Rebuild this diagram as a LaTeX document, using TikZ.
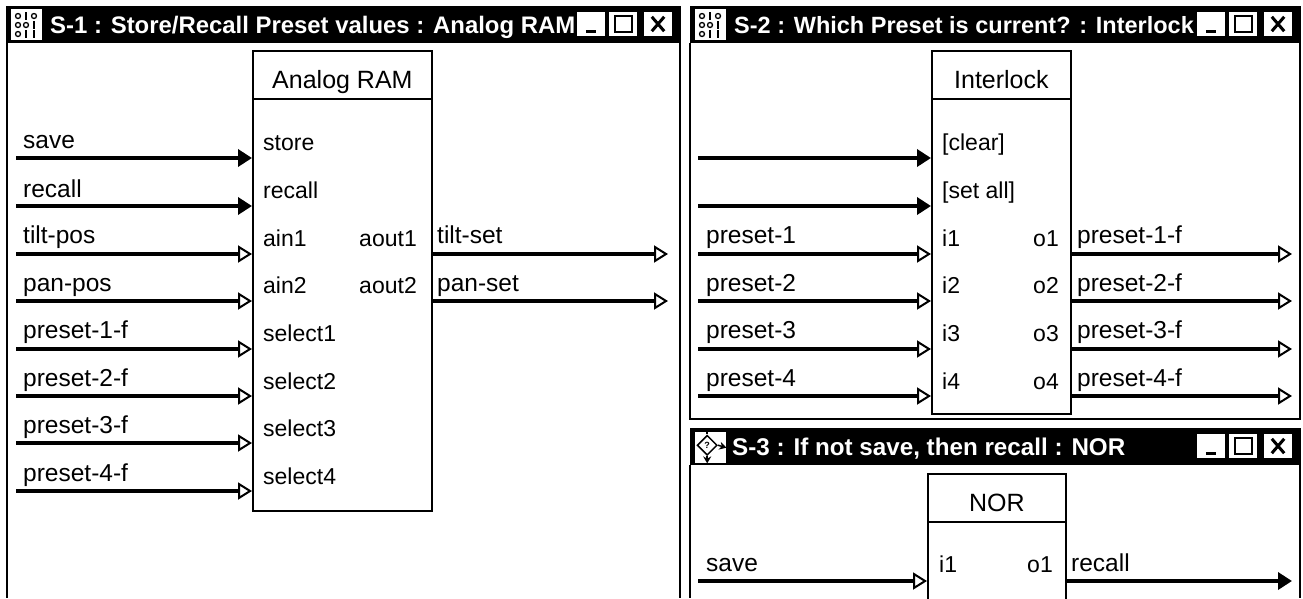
\documentclass[tikz,border=0pt]{standalone}
\usepackage{fontspec}
\setmainfont{Liberation Sans}
\usetikzlibrary{shapes.geometric, arrows.meta, positioning, calc}
\tikzset{
    titlebar/.style={rectangle, fill=black, inner sep=0pt, anchor=north west, minimum height=37pt},
    titletext/.style={text=white, font=\fontsize{#1}{28}\selectfont\bfseries, anchor=base west, inner sep=0pt},
    header/.style={rectangle, draw=black, line width=1.8pt, fill=white, inner sep=0pt, anchor=north west,
                   text height=38pt, text depth=10pt, font=\fontsize{25}{28}\selectfont},
    body/.style={rectangle, draw=black, line width=1.8pt, fill=white, inner sep=0pt, anchor=north west},
    signal/.style={font=\fontsize{24.5}{28}\selectfont, anchor=base west, inner sep=0pt},
    port/.style={font=\fontsize{23}{28}\selectfont, anchor=base west, inner sep=0pt},
    portright/.style={port, anchor=base east},
    frame/.style={draw=black, line width=2pt},
    winbtn/.style={rectangle, fill=white, inner sep=0pt, minimum width=28pt, minimum height=24pt},
    wirein/.style={-{Triangle[fill=white, length=14pt, width=17pt, line width=2pt]}, line width=3.8pt},
    wirefull/.style={-{Triangle[length=14pt, width=17pt]}, line width=3.8pt}
}
\newcommand{\winbuttons}[3]{% prefix, x of the first button, y of the centre
    \node[winbtn] (#1min) at (#2,#3) {};
    \node[winbtn] (#1max) at (#2+32,#3) {};
    \node[winbtn] (#1cls) at (#2+67,#3) {};
    \draw[line width=3pt] ($(#1min.south west)+(9,5)$) -- ($(#1min.south east)+(-9,5)$);
    \draw[line width=2.5pt] ($(#1max.south west)+(6,4)$) rectangle ($(#1max.north east)+(-5,-4)$);
    \draw[line width=3pt] ($(#1cls.south west)+(8,5)$) -- ($(#1cls.north east)+(-8,-5)$);
    \draw[line width=3pt] ($(#1cls.north west)+(8,-5)$) -- ($(#1cls.south east)+(-8,5)$);
}
\newcommand{\chipicon}[3]{% name, left x, top y
    \node[rectangle, fill=white, inner sep=0pt, minimum size=31pt, anchor=north west] (#1) at (#2,#3) {};
    \draw[line width=1.3pt] ($(#1.north west)+(7,-7)$) circle (2.5pt) ($(#1.north west)+(23,-7)$) circle (2.5pt)
        ($(#1.north west)+(7,-16)$) circle (2.5pt) ($(#1.north west)+(15,-16)$) circle (2.5pt)
        ($(#1.north west)+(7,-25)$) circle (2.5pt);
    \draw[line width=1.5pt] ($(#1.north west)+(15,-3)$) -- ++(0,-8) ($(#1.north west)+(23,-12)$) -- ++(0,-8)
        ($(#1.north west)+(15,-21)$) -- ++(0,-8) ($(#1.north west)+(23,-21)$) -- ++(0,-8);
}
\begin{document}
\begin{tikzpicture}[x=1pt, y=1pt]
    \useasboundingbox[fill=white] (0,0) rectangle (1303,-598);

    % Window frames
    \draw[frame] (7,-43) -- (7,-598);
    \draw[frame] (680,-43) -- (680,-598);
    \draw[frame] (690,-43) -- (690,-419) -- (1300,-419) -- (1300,-43);
    \draw[frame] (690,-465) -- (690,-598);
    \draw[frame] (1300,-465) -- (1300,-598);

    % Title bars
    \node[titlebar, minimum width=675pt] (bar1) at (6,-6) {};
    \node[titlebar, minimum width=611pt] (bar2) at (690,-6) {};
    \node[titlebar, minimum width=611pt] (bar3) at (690,-428) {};
    \node[titletext=23.9] (title1) at (50,-33) {S-1 : Store/Recall Preset values : Analog RAM};
    \node[titletext=23.5] (title2) at (734,-33) {S-2 : Which Preset is current? : Interlock};
    \node[titletext=24.2] (title3) at (732,-455) {S-3 : If not save, then recall : NOR};
    \winbuttons{a}{591}{-24}
    \winbuttons{b}{1211}{-24}
    \winbuttons{c}{1211}{-446}
    \chipicon{chipa}{11}{-9}
    \chipicon{chipb}{695}{-9}

    % Icon of the third window
    \node[rectangle, fill=white, inner sep=0pt, minimum size=31pt, anchor=north west] (gate) at (695,-432) {};
    \node[diamond, draw=black, line width=1.5pt, inner sep=0pt, minimum size=20pt, font=\fontsize{9}{9}\selectfont\bfseries]
        (gatemark) at ($(gate.center)+(-3.5,2.5)$) {?};
    \draw[-{Stealth[length=7pt, width=8pt]}, line width=1.5pt] (gatemark.east) -- (gate.east);
    \draw[-{Stealth[length=7pt, width=8pt]}, line width=1.5pt] (gatemark.south) -- (gatemark.south |- gate.south);
    \draw[line width=1.5pt] (gatemark.north) -- (gatemark.north |- gate.north);

    % Analog RAM
    \node[header, minimum width=179pt] (ramhead) at (252,-50) {Analog RAM};
    \node[body, minimum width=179pt, minimum height=412pt] (ram) at (252,-98) {};
    \node[port] (store) at (263,-150) {store};
    \node[port] (recallin) at (263,-198) {recall};
    \node[port] (ain1) at (263,-246) {ain1};
    \node[port] (ain2) at (263,-293) {ain2};
    \node[port] (select1) at (263,-341) {select1};
    \node[port] (select2) at (263,-389) {select2};
    \node[port] (select3) at (263,-436) {select3};
    \node[port] (select4) at (263,-484) {select4};
    \node[portright] (aout1) at (417,-246) {aout1};
    \node[portright] (aout2) at (417,-293) {aout2};

    \coordinate (a1) at (16,-158);
    \coordinate (a2) at (16,-206);
    \coordinate (a3) at (16,-254);
    \coordinate (a4) at (16,-301);
    \coordinate (a5) at (16,-349);
    \coordinate (a6) at (16,-396);
    \coordinate (a7) at (16,-443);
    \coordinate (a8) at (16,-491);
    \coordinate (aoutend1) at (668,-254);
    \coordinate (aoutend2) at (668,-301);
    \draw[wirefull] (a1) -- (a1 -| ram.west);
    \draw[wirefull] (a2) -- (a2 -| ram.west);
    \draw[wirein] (a3) -- (a3 -| ram.west);
    \draw[wirein] (a4) -- (a4 -| ram.west);
    \draw[wirein] (a5) -- (a5 -| ram.west);
    \draw[wirein] (a6) -- (a6 -| ram.west);
    \draw[wirein] (a7) -- (a7 -| ram.west);
    \draw[wirein] (a8) -- (a8 -| ram.west);
    \draw[wirein] (aoutend1 -| ram.east) -- (aoutend1);
    \draw[wirein] (aoutend2 -| ram.east) -- (aoutend2);

    \node[signal] (lsave) at (23,-148) {save};
    \node[signal] (lrecall) at (23,-197) {recall};
    \node[signal] (ltilt) at (23,-243) {tilt-pos};
    \node[signal] (lpan) at (23,-291) {pan-pos};
    \node[signal] (lpa) at (23,-338) {preset-1-f};
    \node[signal] (lpb) at (23,-386) {preset-2-f};
    \node[signal] (lpc) at (23,-433) {preset-3-f};
    \node[signal] (lpd) at (23,-481) {preset-4-f};
    \node[signal] (ltiltset) at (437,-243) {tilt-set};
    \node[signal] (lpanset) at (437,-291) {pan-set};

    % Interlock
    \node[header, minimum width=139pt] (lockhead) at (931,-50) {Interlock};
    \node[body, minimum width=139pt, minimum height=315pt] (lock) at (931,-98) {};
    \node[port] (clear) at (942,-150) {[clear]};
    \node[port] (setall) at (942,-198) {[set all]};
    \node[port] (i1) at (942,-246) {i1};
    \node[port] (i2) at (942,-293) {i2};
    \node[port] (i3) at (942,-341) {i3};
    \node[port] (i4) at (942,-389) {i4};
    \node[portright] (o1) at (1059,-246) {o1};
    \node[portright] (o2) at (1059,-293) {o2};
    \node[portright] (o3) at (1059,-341) {o3};
    \node[portright] (o4) at (1059,-389) {o4};

    \coordinate (b1) at (698,-158);
    \coordinate (b2) at (698,-206);
    \coordinate (b3) at (698,-254);
    \coordinate (b4) at (698,-301);
    \coordinate (b5) at (698,-349);
    \coordinate (b6) at (698,-396);
    \coordinate (boutend1) at (1292,-254);
    \coordinate (boutend2) at (1292,-301);
    \coordinate (boutend3) at (1292,-349);
    \coordinate (boutend4) at (1292,-396);
    \draw[wirefull] (b1) -- (b1 -| lock.west);
    \draw[wirefull] (b2) -- (b2 -| lock.west);
    \draw[wirein] (b3) -- (b3 -| lock.west);
    \draw[wirein] (b4) -- (b4 -| lock.west);
    \draw[wirein] (b5) -- (b5 -| lock.west);
    \draw[wirein] (b6) -- (b6 -| lock.west);
    \draw[wirein] (boutend1 -| lock.east) -- (boutend1);
    \draw[wirein] (boutend2 -| lock.east) -- (boutend2);
    \draw[wirein] (boutend3 -| lock.east) -- (boutend3);
    \draw[wirein] (boutend4 -| lock.east) -- (boutend4);

    \node[signal] (la) at (706,-243) {preset-1};
    \node[signal] (lb) at (706,-291) {preset-2};
    \node[signal] (lc) at (706,-338) {preset-3};
    \node[signal] (ld) at (706,-386) {preset-4};
    \node[signal] (lfa) at (1077,-243) {preset-1-f};
    \node[signal] (lfb) at (1077,-291) {preset-2-f};
    \node[signal] (lfc) at (1077,-338) {preset-3-f};
    \node[signal] (lfd) at (1077,-386) {preset-4-f};

    % NOR
    \node[header, minimum width=138pt] (norhead) at (927,-473) {NOR};
    \node[body, minimum width=138pt, minimum height=78pt] (nor) at (927,-521) {};
    \node[port] (ni1) at (939,-572) {i1};
    \node[portright] (no1) at (1053,-572) {o1};
    \coordinate (c1) at (698,-581);
    \coordinate (coutend) at (1292,-581);
    \draw[wirein] (c1) -- (c1 -| nor.west);
    \draw[wirefull] (coutend -| nor.east) -- (coutend);
    \node[signal] (lnsave) at (706,-571) {save};
    \node[signal] (lnrecall) at (1071,-571) {recall};
\end{tikzpicture}
\end{document}
